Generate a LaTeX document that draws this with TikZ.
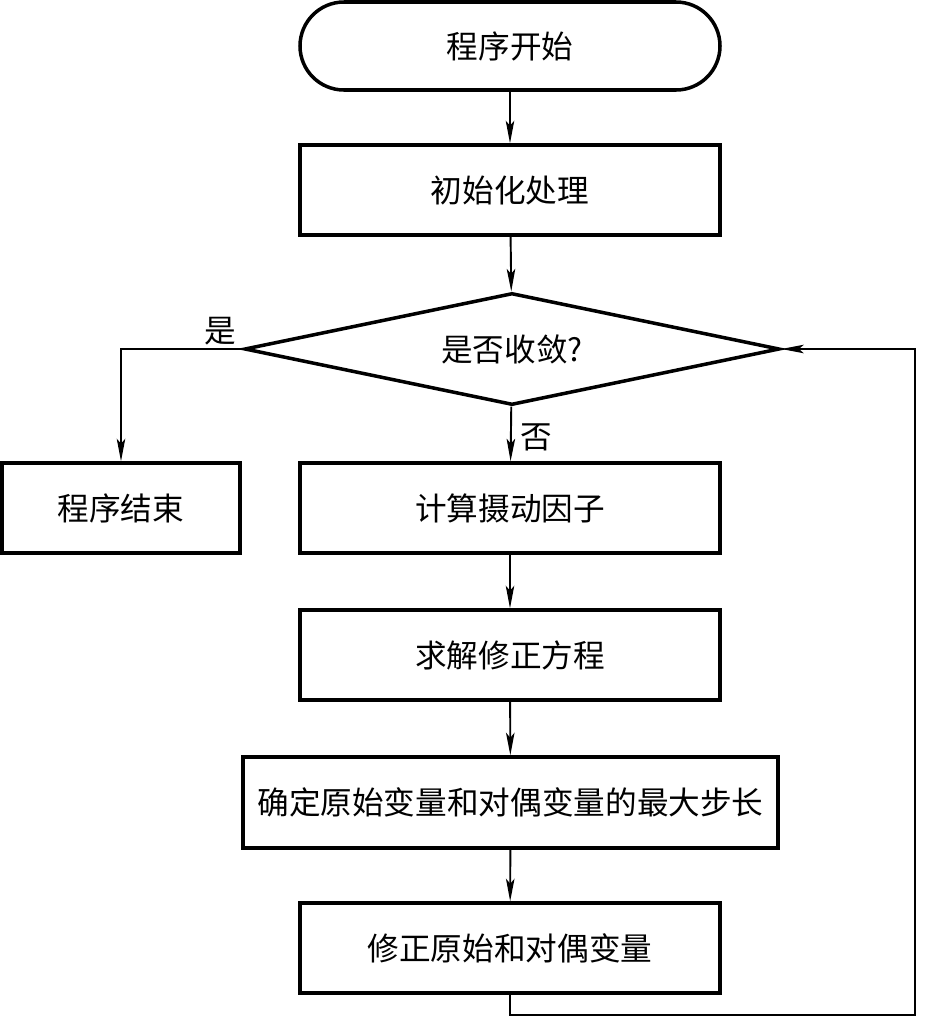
\documentclass[tikz,border=0pt]{standalone}
\usepackage{fontspec}
\newfontfamily\cjk{Noto Sans CJK SC}
\usetikzlibrary{arrows.meta,shapes.geometric}

\begin{document}
\begin{tikzpicture}[
	procbox/.style={draw, line width=2pt, minimum width=8.4cm, minimum height=1.8cm, font=\cjk\fontsize{18}{20}\selectfont},
	flow/.style={line width=1.1pt, -{Stealth[length=0.45cm, width=0.17cm, inset=0.1cm]}},
	tag/.style={font=\cjk\fontsize{18}{20}\selectfont}
	]
			%%%%% START %%%%%
			
			\useasboundingbox (0, 0) rectangle (18.6, -20.34);
			
			\node[procbox, rounded corners=0.88cm, minimum height=1.76cm] (start) at (10.2, -0.92) {程序开始};
			\node[procbox] (init) at (10.2, -3.8) {初始化处理};
			
			\node[draw, diamond, shape aspect=4.78, line width=2pt, inner sep=0pt, minimum width=10.7cm, minimum height=2.24cm, font=\cjk\fontsize{18}{20}\selectfont] (conv) at (10.24, -6.98) {是否收敛?};
			
			\node[procbox, minimum width=4.76cm] (stop) at (2.42, -10.16) {程序结束};
			\node[procbox] (pert) at (10.2, -10.16) {计算摄动因子};
			\node[procbox] (solve) at (10.2, -13.1) {求解修正方程};
			\node[procbox, minimum width=10.7cm, minimum height=1.82cm] (step) at (10.21, -16.05) {确定原始变量和对偶变量的最大步长};
			\node[procbox] (update) at (10.2, -18.96) {修正原始和对偶变量};
			
			\node[tag] (yes) at (4.4, -6.62) {是};
			\node[tag] (no) at (10.72, -8.74) {否};
			
			\coordinate (loopA) at (10.2, -20.3);
			\coordinate (loopB) at (18.3, -20.3);
			
			\draw[flow] (start) -- (init);
			\draw[flow] (init) -- (conv);
			\draw[flow] (conv.west) -| (stop.north);
			\draw[flow] (conv) -- (pert);
			\draw[flow] (pert) -- (solve);
			\draw[flow] (solve) -- (step);
			\draw[flow] (step) -- (update);
			\draw[flow] (update) -- (loopA) -- (loopB) |- (conv.east);
			
			%%%%% END %%%%%
\end{tikzpicture}
\end{document}
